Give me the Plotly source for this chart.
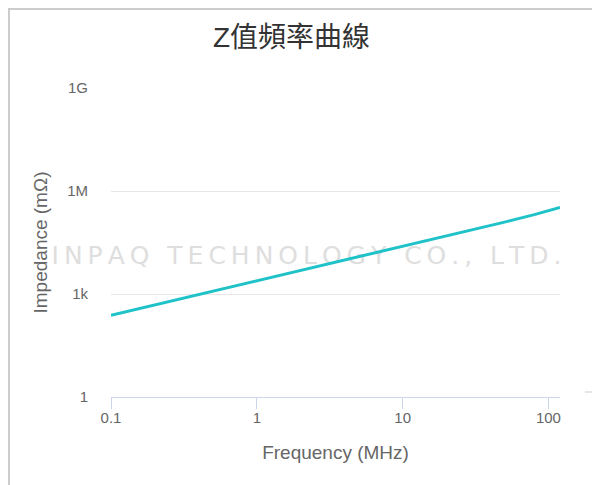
import plotly.graph_objects as go

# Data
freq_mhz = [0.1, 0.2, 0.5, 1, 2, 5, 10, 20, 50, 80, 100, 120]
impedance_mohm = [240, 480, 1200, 2400, 4800, 12000, 24000, 48500, 124000, 205000, 265000, 330000]

y_tick_vals = [1, 1e3, 1e6, 1e9]
y_tick_text = ["1", "1k", "1M", "1G"]
x_tick_vals = [0.1, 1, 10, 100]
x_tick_text = ["0.1", "1", "10", "100"]

title_text = "Z值頻率曲線"
x_title = "Frequency (MHz)"
y_title = "Impedance (mΩ)"
watermark = "INPAQ TECHNOLOGY CO., LTD."

OFF = 8  # page body margin: screen coord = figure coord + OFF
W, H = 592, 477
# plot area in screen coordinates: x 111..560, y 88..397
L, T = 111 - OFF, 88 - OFF
R = W - (560 - OFF)
B = H - (397 - OFF)
PW, PH = W - L - R, H - T - B


def px(xs):
    return (xs - OFF - L) / PW


def py(ys):
    return (H - B - (ys - OFF)) / PH


FONT = "Liberation Sans, Arial, Noto Sans CJK TC, sans-serif"

fig = go.Figure()
fig.add_trace(go.Scatter(
    x=freq_mhz, y=impedance_mohm, mode="lines",
    line=dict(color="#1fc2c9", width=3),
    hoverinfo="x+y", showlegend=False,
))

spaced = "\u2009".join(list(watermark))

shapes = [
    # watermark holder (below traces)
    dict(type="rect", xref="paper", yref="paper",
         x0=px(30), x1=px(583), y0=py(268), y1=py(238),
         line=dict(width=0), fillcolor="rgba(0,0,0,0)", layer="below",
         label=dict(text=spaced,
                    font=dict(family="DejaVu Sans, sans-serif", size=25, color="#dedede"),
                    textposition="middle center")),
    # card border (as far left/top as the page allows)
    dict(type="line", xref="paper", yref="paper", x0=px(9), x1=px(9), y0=py(8), y1=py(490),
         line=dict(color="#cccccc", width=2)),
    dict(type="line", xref="paper", yref="paper", x0=px(8), x1=px(605), y0=py(9), y1=py(9),
         line=dict(color="#cccccc", width=2)),
    # faint element at right
    dict(type="line", xref="paper", yref="paper", x0=px(585), x1=px(602), y0=py(392), y1=py(392),
         line=dict(color="#e6e6e6", width=2)),
]

fig.update_layout(
    width=W, height=H,
    margin=dict(l=L, r=R, t=T, b=B),
    paper_bgcolor="white", plot_bgcolor="white",
    font=dict(family=FONT, color="#666666"),
    title=dict(text=title_text, x=(291.5 - OFF) / W, xref="container", xanchor="center",
               y=1 - (37.5 - OFF) / H, yref="container", yanchor="middle",
               font=dict(size=28, color="#333333", family=FONT)),
    xaxis=dict(
        type="log", range=[-1, 2.0792],
        tickvals=x_tick_vals, ticktext=x_tick_text,
        showgrid=False, zeroline=False,
        showline=True, linecolor="#ccd6eb", linewidth=1,
        ticks="outside", ticklen=11, tickcolor="#ccd6eb", tickwidth=1,
        ticklabelstandoff=-4,
        tickfont=dict(size=15, color="#666666"),
        title=dict(text=x_title, font=dict(size=19, color="#666666"), standoff=20),
    ),
    yaxis=dict(
        type="log", range=[0, 9],
        tickvals=y_tick_vals, ticktext=y_tick_text,
        showgrid=True, gridcolor="#e6e6e6", gridwidth=1,
        zeroline=False, showline=False, ticks="",
        ticklabelstandoff=22,
        tickfont=dict(size=15, color="#666666"),
        title=dict(text=y_title, font=dict(size=19, color="#666666"), standoff=14),
    ),
    shapes=shapes,
)

fig.write_html("out.html")
